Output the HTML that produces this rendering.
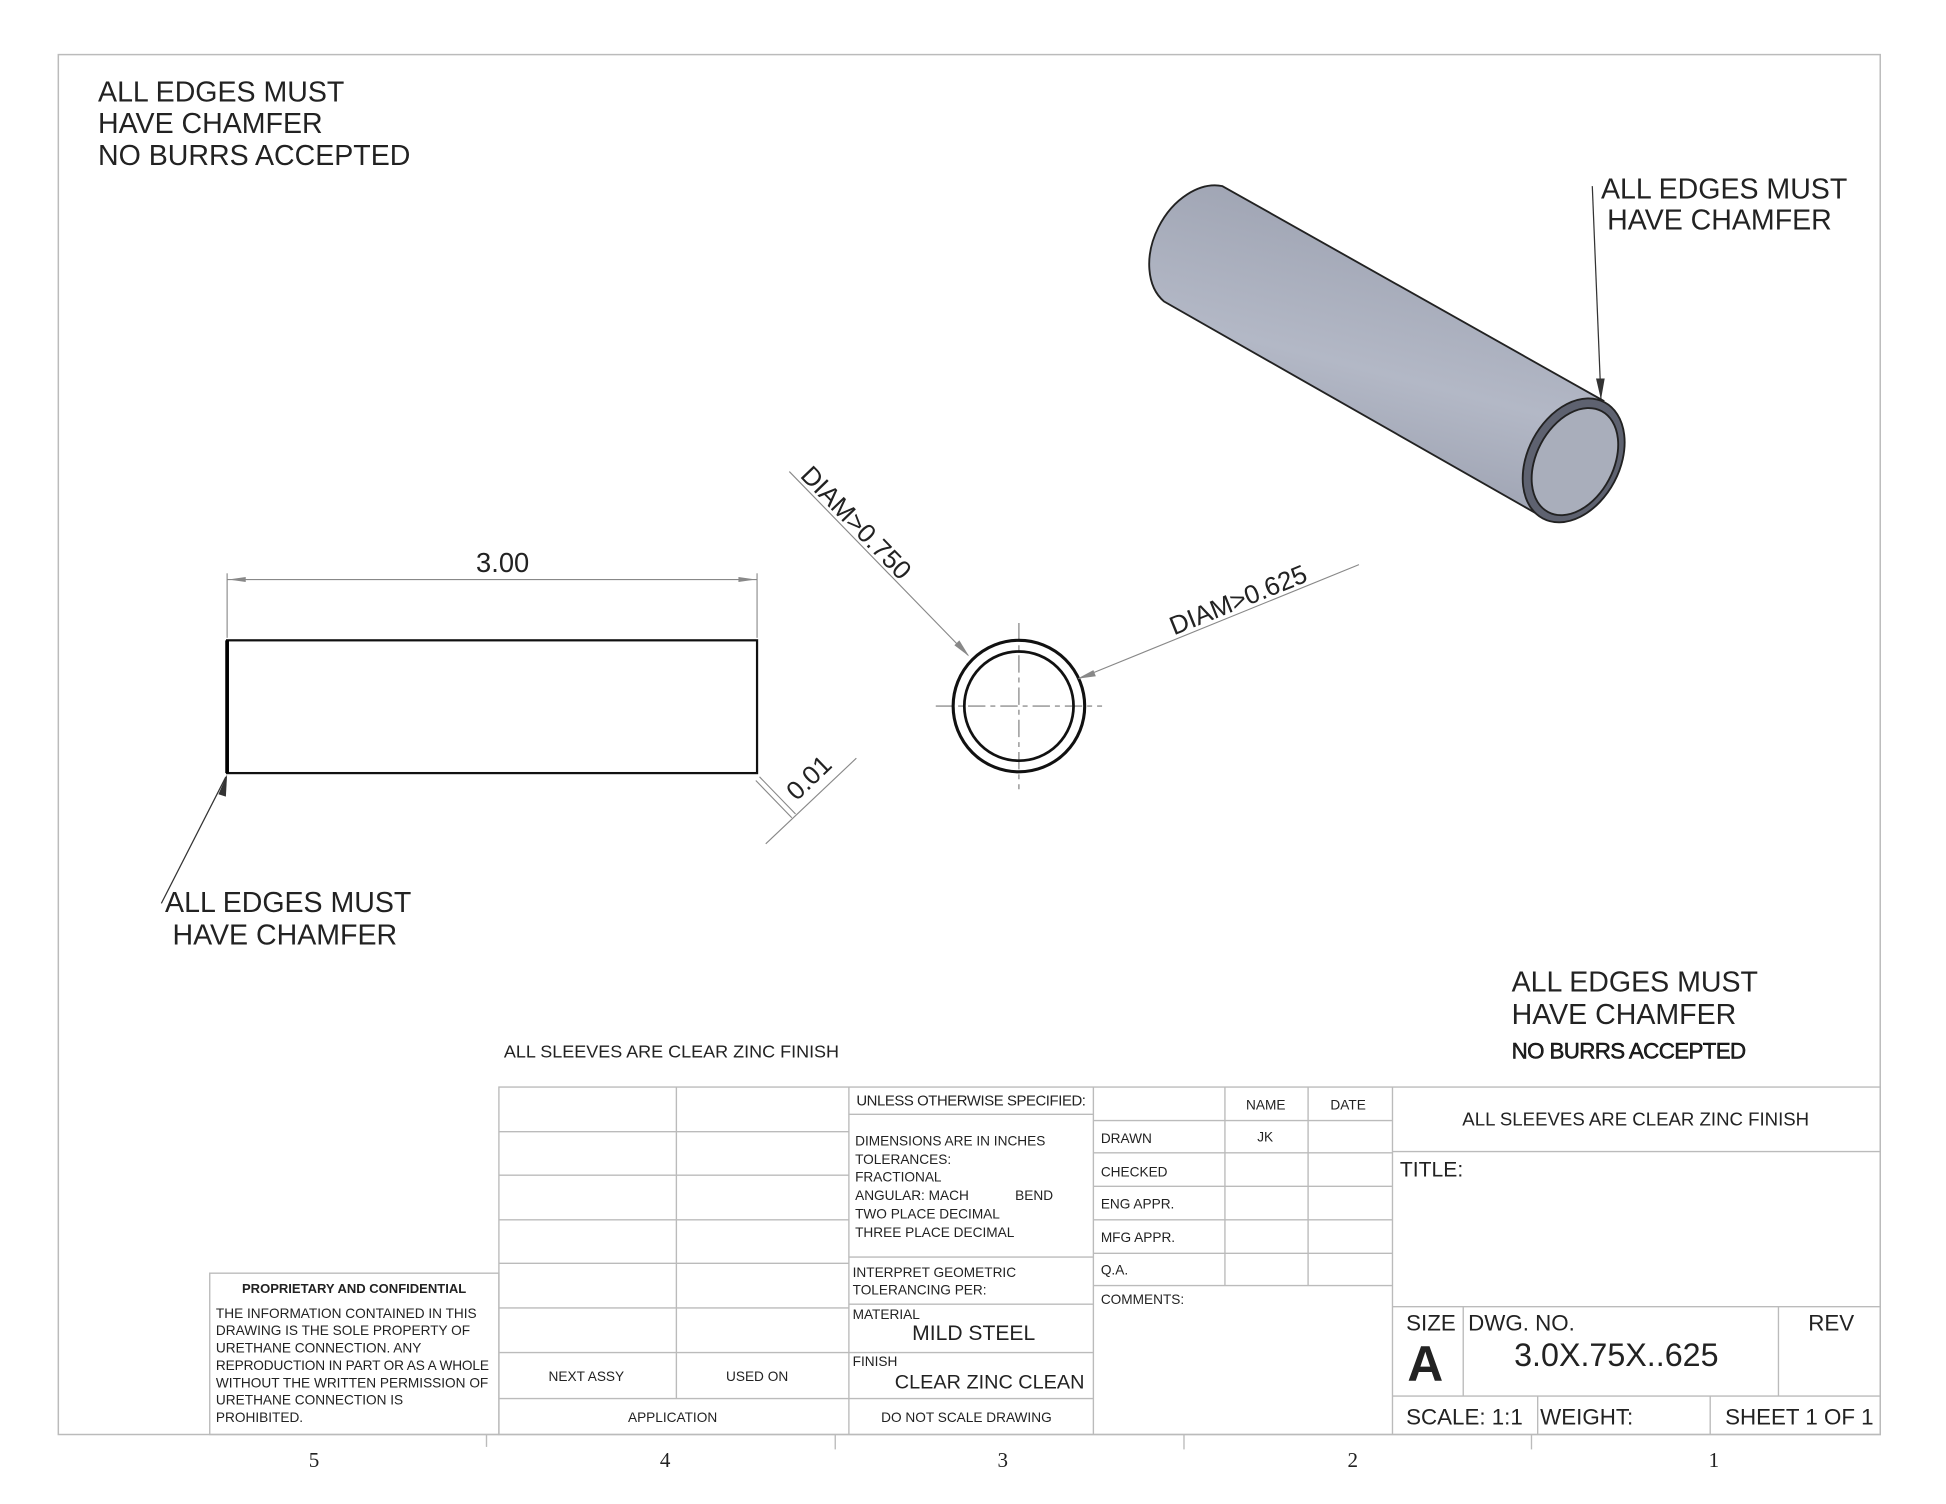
<!DOCTYPE html>
<html><head><meta charset="utf-8"><style>
html,body{margin:0;padding:0;background:#fff;}
svg{display:block;}
text{font-family:"Liberation Sans",sans-serif;fill:#222;}
</style></head><body>
<svg width="1946" height="1504" viewBox="0 0 1568 1212" preserveAspectRatio="none" xmlns="http://www.w3.org/2000/svg">
<defs>
<linearGradient id="g" x1="0" y1="1" x2="0.35" y2="0" gradientUnits="objectBoundingBox">
<stop offset="0" stop-color="#8e93a3"/><stop offset="0.55" stop-color="#b3b8c6"/><stop offset="1" stop-color="#9ea3b2"/>
</linearGradient>
</defs>
<rect x="0" y="0" width="1568" height="1212" fill="#fff"/>
<rect x="47" y="44" width="1468" height="1112" fill="none" stroke="#bbb" stroke-width="1.2"/>

<g font-size="23" fill="#222">
<text x="79" y="82">ALL EDGES MUST</text>
<text x="79" y="107">HAVE CHAMFER</text>
<text x="79" y="133">NO BURRS ACCEPTED</text>
<text x="1290" y="160">ALL EDGES MUST</text>
<text x="1295" y="185">HAVE CHAMFER</text>
<text x="133" y="735">ALL EDGES MUST</text>
<text x="139" y="761">HAVE CHAMFER</text>
<text x="1218" y="799">ALL EDGES MUST</text>
<text x="1218" y="825">HAVE CHAMFER</text>
</g>
<text x="1218" y="853" font-size="18" fill="#000" stroke="#000" stroke-width="0.4" textLength="189">NO BURRS ACCEPTED</text>
<text x="406" y="852" font-size="14.5" fill="#444">ALL SLEEVES ARE CLEAR ZINC FINISH</text>

<path d="M1283 150 L1290 322" stroke="#333" stroke-width="1" fill="none"/>
<path d="M1286 305 L1290 322 L1293 305 Z" fill="#333"/>
<path d="M130 728 L182 626" stroke="#333" stroke-width="1" fill="none"/>
<path d="M176 640 L183 624 L182 642 Z" fill="#333"/>

<rect x="183" y="516" width="427" height="107" fill="none" stroke="#111" stroke-width="1.8"/>
<line x1="183" y1="516" x2="183" y2="623" stroke="#000" stroke-width="3"/>
<g stroke="#888" stroke-width="0.9" fill="none">
<line x1="183" y1="462" x2="183" y2="514"/>
<line x1="610" y1="462" x2="610" y2="514"/>
<line x1="183" y1="467" x2="610" y2="467"/>
</g>
<path d="M184 467 L198 465 L198 469 Z M609 467 L595 465 L595 469 Z" fill="#888"/>
<text x="405" y="461" font-size="22" fill="#666" text-anchor="middle">3.00</text>
<g stroke="#888" stroke-width="0.9" fill="none">
<line x1="617" y1="680" x2="690" y2="611"/>
<line x1="612" y1="626" x2="641" y2="656"/>
<line x1="609" y1="629" x2="638" y2="659"/>
</g>
<g transform="translate(642 646) rotate(-44)"><text x="0" y="0" font-size="21" fill="#666">0.01</text></g>

<g stroke="#777" stroke-width="0.9" fill="none" stroke-dasharray="14 4 4 4">
<line x1="754" y1="569" x2="888" y2="569"/>
<line x1="821" y1="502" x2="821" y2="636"/>
</g>
<circle cx="821" cy="569" r="53" fill="none" stroke="#111" stroke-width="2.5"/>
<circle cx="821" cy="569" r="44" fill="none" stroke="#111" stroke-width="2.2"/>
<line x1="636" y1="380" x2="780" y2="528" stroke="#888" stroke-width="0.9"/>
<path d="M781 529 L769 520 L773 516 Z" fill="#888"/>
<g transform="translate(644 384) rotate(46)"><text x="0" y="0" font-size="21" fill="#666">DIAM&gt;0.750</text></g>
<line x1="1095" y1="455" x2="869" y2="547" stroke="#888" stroke-width="0.9"/>
<path d="M868 547 L881 540 L883 545 Z" fill="#888"/>
<g transform="translate(946 512) rotate(-22)"><text x="0" y="0" font-size="21" fill="#666">DIAM&gt;0.625</text></g>

<path d="M985 150 L1292 323 L1247 419 L938 243 A38 53 28 0 1 985 150 Z" fill="url(#g)" stroke="#222" stroke-width="1.5"/>
<ellipse cx="1268" cy="371" rx="37" ry="53" transform="rotate(28 1268 371)" fill="#5e6270" stroke="#222" stroke-width="1.5"/>
<ellipse cx="1269" cy="372" rx="31" ry="46" transform="rotate(28 1269 372)" fill="#a9aebb" stroke="#222" stroke-width="1.5"/>

<g stroke="#bbb" stroke-width="1.1" fill="none">
<rect x="169" y="1026" width="233" height="130"/>
<rect x="402" y="876" width="1113" height="280"/>
<line x1="545" y1="876" x2="545" y2="1127"/>
<line x1="684" y1="876" x2="684" y2="1156"/>
<line x1="881" y1="876" x2="881" y2="1156"/>
<line x1="402" y1="912" x2="684" y2="912"/>
<line x1="402" y1="947" x2="684" y2="947"/>
<line x1="402" y1="983" x2="684" y2="983"/>
<line x1="402" y1="1018" x2="684" y2="1018"/>
<line x1="402" y1="1054" x2="684" y2="1054"/>
<line x1="402" y1="1090" x2="881" y2="1090"/>
<line x1="402" y1="1127" x2="881" y2="1127"/>
<line x1="684" y1="898" x2="881" y2="898"/>
<line x1="684" y1="1013" x2="881" y2="1013"/>
<line x1="684" y1="1051" x2="881" y2="1051"/>
<line x1="987" y1="876" x2="987" y2="1036"/>
<line x1="1054" y1="876" x2="1054" y2="1036"/>
<line x1="1122" y1="876" x2="1122" y2="1156"/>
<line x1="881" y1="903" x2="1122" y2="903"/>
<line x1="881" y1="929" x2="1122" y2="929"/>
<line x1="881" y1="956" x2="1122" y2="956"/>
<line x1="881" y1="983" x2="1122" y2="983"/>
<line x1="881" y1="1010" x2="1122" y2="1010"/>
<line x1="881" y1="1036" x2="1122" y2="1036"/>
<line x1="1122" y1="928" x2="1515" y2="928"/>
<line x1="1122" y1="1053" x2="1515" y2="1053"/>
<line x1="1122" y1="1125" x2="1515" y2="1125"/>
<line x1="1179" y1="1053" x2="1179" y2="1125"/>
<line x1="1433" y1="1053" x2="1433" y2="1125"/>
<line x1="1239" y1="1125" x2="1239" y2="1156"/>
<line x1="1378" y1="1125" x2="1378" y2="1156"/>
<line x1="392" y1="1156" x2="392" y2="1166"/>
<line x1="673" y1="1156" x2="673" y2="1168"/>
<line x1="954" y1="1156" x2="954" y2="1168"/>
<line x1="1234" y1="1156" x2="1234" y2="1168"/>
</g>
<g font-size="11" fill="#333">
<text x="195" y="1042" font-weight="bold" font-size="10.5">PROPRIETARY AND CONFIDENTIAL</text>
<text x="174" y="1062">THE INFORMATION CONTAINED IN THIS</text>
<text x="174" y="1076">DRAWING IS THE SOLE PROPERTY OF</text>
<text x="174" y="1090">URETHANE CONNECTION.  ANY</text>
<text x="174" y="1104" textLength="220">REPRODUCTION IN PART OR AS A WHOLE</text>
<text x="174" y="1118">WITHOUT THE WRITTEN PERMISSION OF</text>
<text x="174" y="1132">URETHANE CONNECTION IS</text>
<text x="174" y="1146">PROHIBITED.</text>
<text x="442" y="1113">NEXT ASSY</text>
<text x="585" y="1113">USED ON</text>
<text x="506" y="1146">APPLICATION</text>
<text x="710" y="1146">DO NOT SCALE DRAWING</text>
<text x="690" y="891" font-size="12" textLength="185">UNLESS OTHERWISE SPECIFIED:</text>
<text x="689" y="923">DIMENSIONS ARE IN INCHES</text>
<text x="689" y="938">TOLERANCES:</text>
<text x="689" y="952">FRACTIONAL</text>
<text x="689" y="967">ANGULAR: MACH</text>
<text x="818" y="967">BEND</text>
<text x="689" y="982">TWO PLACE DECIMAL</text>
<text x="689" y="997">THREE PLACE DECIMAL</text>
<text x="687" y="1029">INTERPRET GEOMETRIC</text>
<text x="687" y="1043">TOLERANCING PER:</text>
<text x="687" y="1063">MATERIAL</text>
<text x="687" y="1101">FINISH</text>
<text x="1004" y="894">NAME</text>
<text x="1072" y="894">DATE</text>
<text x="887" y="921">DRAWN</text>
<text x="1013" y="920">JK</text>
<text x="887" y="948">CHECKED</text>
<text x="887" y="974">ENG APPR.</text>
<text x="887" y="1001">MFG APPR.</text>
<text x="887" y="1027">Q.A.</text>
<text x="887" y="1051">COMMENTS:</text>
</g>
<text x="735" y="1080" font-size="17" fill="#222">MILD STEEL</text>
<text x="721" y="1119" font-size="16" fill="#444">CLEAR ZINC CLEAN</text>
<text x="1318" y="907" font-size="15" fill="#444" text-anchor="middle">ALL SLEEVES ARE CLEAR ZINC FINISH</text>
<text x="1128" y="948" font-size="17" fill="#222">TITLE:</text>
<text x="1133" y="1072" font-size="18" fill="#222">SIZE</text>
<text x="1134" y="1113" font-size="40" font-weight="bold" fill="#111">A</text>
<text x="1183" y="1072" font-size="18" fill="#222">DWG.  NO.</text>
<text x="1220" y="1101" font-size="26" fill="#222">3.0X.75X..625</text>
<text x="1457" y="1072" font-size="18" fill="#222">REV</text>
<text x="1133" y="1148" font-size="18" fill="#222">SCALE: 1:1</text>
<text x="1241" y="1148" font-size="18" fill="#222">WEIGHT:</text>
<text x="1390" y="1148" font-size="18" fill="#222">SHEET 1 OF 1</text>
<g font-size="17" fill="#333" text-anchor="middle">
<text x="253" y="1182" style="font-family:'Liberation Serif',serif">5</text>
<text x="536" y="1182" style="font-family:'Liberation Serif',serif">4</text>
<text x="808" y="1182" style="font-family:'Liberation Serif',serif">3</text>
<text x="1090" y="1182" style="font-family:'Liberation Serif',serif">2</text>
<text x="1381" y="1182" style="font-family:'Liberation Serif',serif">1</text>
</g>
</svg>
</body></html>
